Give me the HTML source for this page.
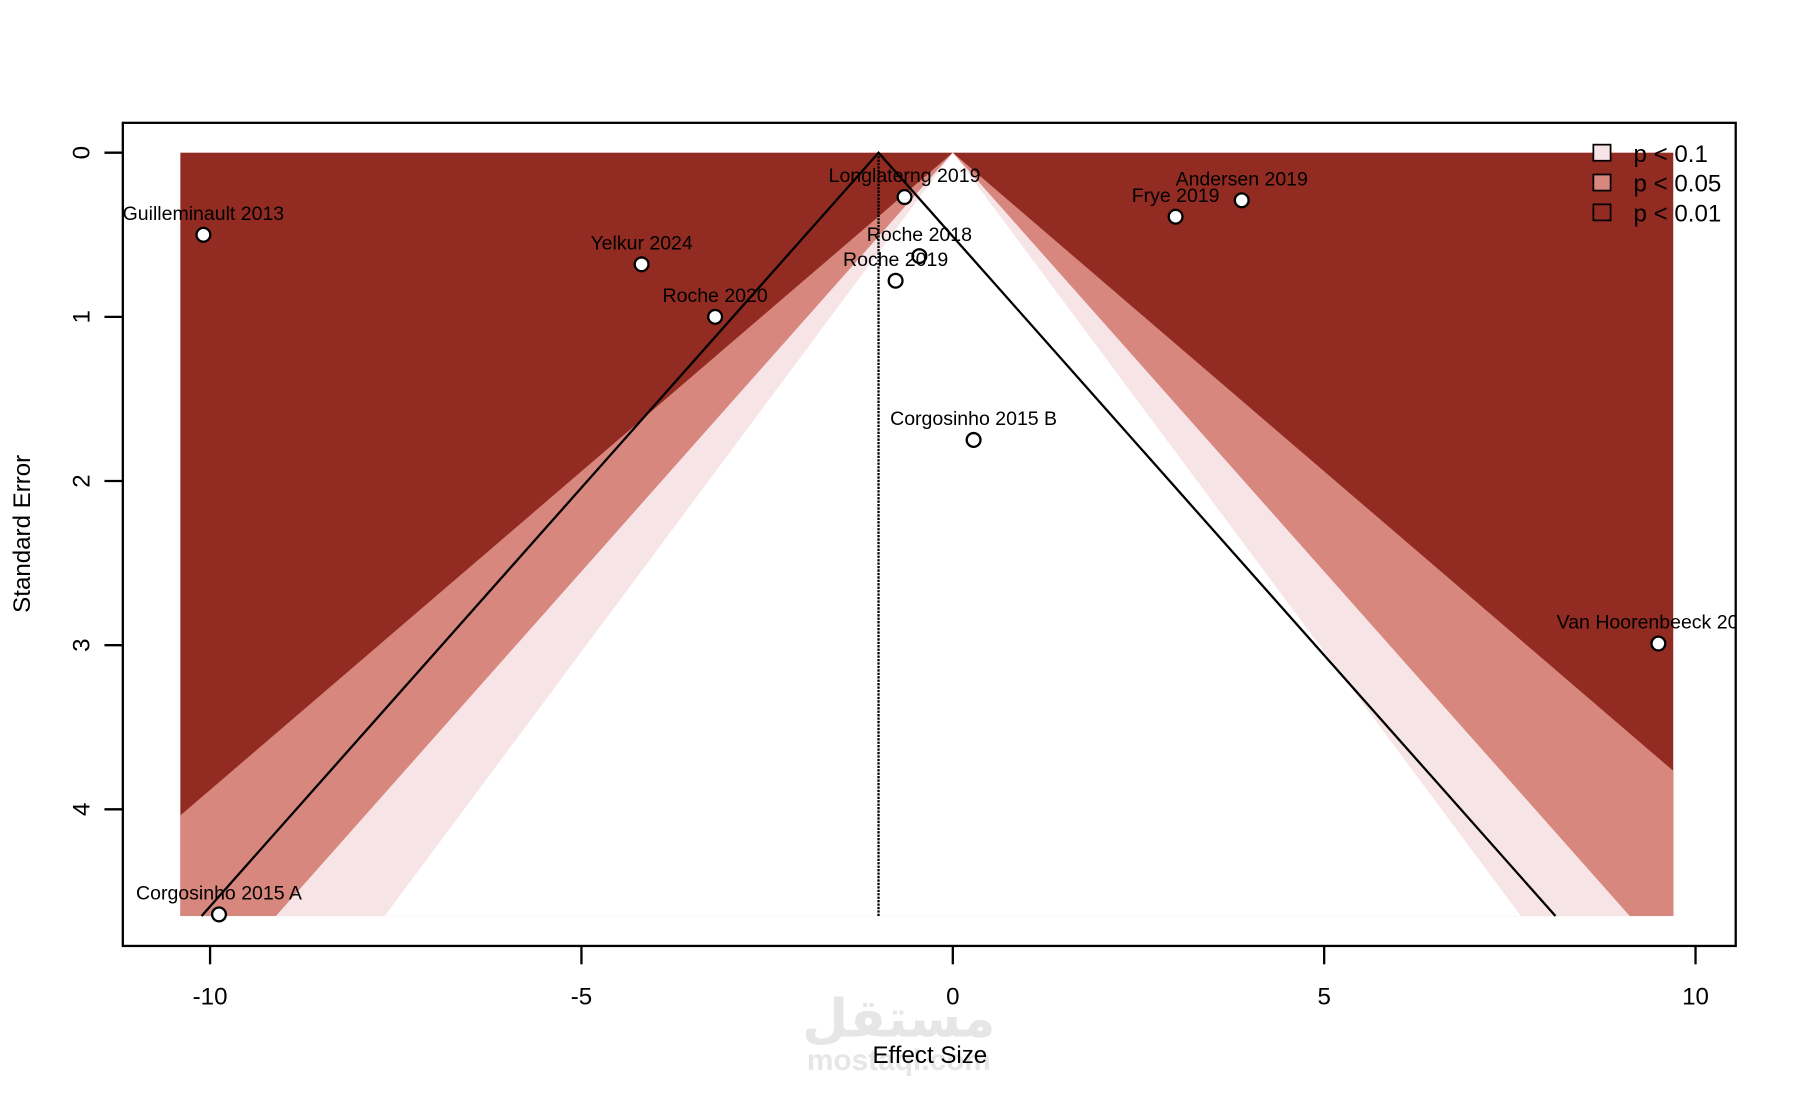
<!DOCTYPE html>
<html><head><meta charset="utf-8"><style>
html,body{margin:0;padding:0;background:#fff;}
svg{display:block;font-family:"Liberation Sans",Arial,sans-serif;}
</style></head><body>
<svg id="chart" width="1800" height="1100" viewBox="0 0 1568 958.2" preserveAspectRatio="none" xmlns="http://www.w3.org/2000/svg">
<defs><clipPath id="box"><rect x="107" y="107" width="1405" height="717"/></clipPath></defs>
<g id="plot" clip-path="url(#box)"></g>
<g id="fg"></g>
</svg>
<script>
const studies = ["Guilleminault 2013","Yelkur 2024","Roche 2020","Longlaterng 2019","Roche 2018","Roche 2019","Frye 2019","Andersen 2019","Corgosinho 2015 B","Van Hoorenbeeck 2018","Corgosinho 2015 A"];
const effects = [-10.09,-4.19,-3.2,-0.65,-0.45,-0.77,3.0,3.89,0.28,9.5,-9.88];
const stderrs = [0.50,0.68,1.0,0.27,0.63,0.78,0.39,0.29,1.75,2.99,4.64];
const xTicks = [-10,-5,0,5,10];
const yTicks = [0,1,2,3,4];
const pooled = -1;
const seMax = 4.65;
const xMin = -10.4, xMax = 9.7;
const contourZ = [2.576,1.96,1.645];
const contourColors = ["#d8877e","#f7e4e6","#ffffff"];
const legendLabels = ["p < 0.1","p < 0.05","p < 0.01"];
const legendColors = ["#f7e4e6","#d8877e","#922b21"];

const X = v => 830 + v*64.7;
const Y = v => 133 + v*143;
const NS="http://www.w3.org/2000/svg";
function mk(tag, attrs, parent){const e=document.createElementNS(NS,tag);for(const k in attrs)e.setAttribute(k,attrs[k]);parent.appendChild(e);return e;}
const plot=document.getElementById('plot'), fg=document.getElementById('fg');

let r=mk('rect',{x:X(xMin),y:Y(0),width:X(xMax)-X(xMin),height:Y(seMax)-Y(0),fill:"#922b21"},plot);


contourZ.forEach((z,i)=>{
  const cp=mk('clipPath',{id:'c'+i},document.querySelector('defs'));
  mk('rect',{x:X(xMin),y:Y(0),width:X(xMax)-X(xMin),height:Y(seMax)-Y(0)},cp);
  const p=mk('polygon',{points:`${X(0)},${Y(0)} ${X(-z*seMax)},${Y(seMax)} ${X(z*seMax)},${Y(seMax)}`,fill:contourColors[i],'clip-path':`url(#c${i})`},plot);
  
  
});
let vl=mk('line',{x1:X(pooled),y1:Y(0),x2:X(pooled),y2:Y(seMax),stroke:"#000","stroke-width":2,"stroke-dasharray":"2 1"},plot);


let tl=mk('polyline',{points:`${X(pooled-1.96*seMax)},${Y(seMax)} ${X(pooled)},${Y(0)} ${X(pooled+1.96*seMax)},${Y(seMax)}`,fill:"none",stroke:"#000","stroke-width":2},plot);


studies.forEach((s,i)=>{
  const c=mk('circle',{cx:X(effects[i]),cy:Y(stderrs[i]),r:6,fill:"#fff",stroke:"#000","stroke-width":2},plot);
  
  
  const t=mk('text',{x:X(effects[i]),y:Y(stderrs[i])-13,"text-anchor":"middle","font-size":17,fill:"#000"},plot);
  t.textContent=s;
  
  
});
let b=mk('rect',{x:107,y:107,width:1405,height:717,fill:"none",stroke:"#000","stroke-width":2},fg);


mk('line',{x1:X(xTicks[0]),y1:824,x2:X(xTicks[xTicks.length-1]),y2:824,stroke:"#000"},fg);
xTicks.forEach(v=>{
  mk('line',{x1:X(v),y1:824,x2:X(v),y2:840,stroke:"#000","stroke-width":2},fg);
  const t=mk('text',{x:X(v),y:875,"text-anchor":"middle","font-size":21},fg);
  t.textContent=v;
  
  
});
yTicks.forEach(v=>{
  mk('line',{x1:91,y1:Y(v),x2:107,y2:Y(v),stroke:"#000","stroke-width":2},fg);
  const t=mk('text',{x:78,y:Y(v),"text-anchor":"middle","font-size":21,transform:`rotate(-90 78 ${Y(v)})`},fg);
  t.textContent=v;
  
  
});
let xt=mk('text',{x:810,y:926,"text-anchor":"middle","font-size":21},fg);xt.textContent="Effect Size";


let yt=mk('text',{x:26,y:465,"text-anchor":"middle","font-size":21,transform:"rotate(-90 26 465)"},fg);yt.textContent="Standard Error";


legendLabels.forEach((l,i)=>{
  const y=133+i*26;
  const g=mk('g',{},fg);
  
  
  mk('rect',{x:1388,y:y-7,width:15,height:14,fill:legendColors[i],stroke:"#000","stroke-width":1.5},g);
  const t=mk('text',{x:1423,y:y+8,"font-size":21},g);t.textContent=l;
});
let w=mk('text',{x:783,y:903,"text-anchor":"middle","font-size":46,"font-weight":"bold",fill:"#e6e6e6","font-family":"DejaVu Sans, sans-serif"},fg);w.textContent="مستقل";


let w2=mk('text',{x:783,y:932,"text-anchor":"middle","font-size":26,"font-weight":"bold",fill:"#e6e6e6"},fg);w2.textContent="mostaql.com";


fg.insertBefore(w,fg.firstChild);fg.insertBefore(w2,fg.firstChild);
</script>
</body></html>
